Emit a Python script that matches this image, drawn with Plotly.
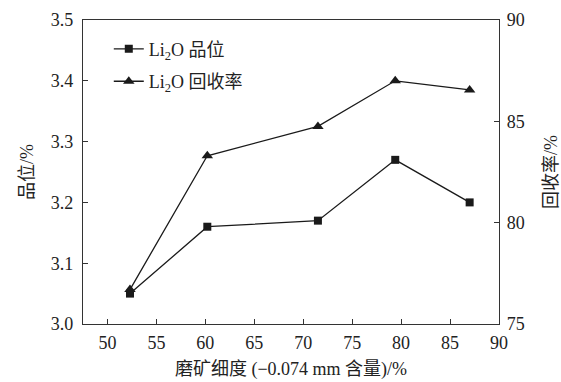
import plotly.graph_objects as go

fineness = [52.3, 60.2, 71.5, 79.4, 87.0]
grade = [3.05, 3.16, 3.17, 3.27, 3.20]
recovery = [76.7, 83.3, 84.75, 87.0, 86.55]

FONT = "Liberation Serif, Times New Roman, Noto Sans CJK SC, serif"

fig = go.Figure()
fig.add_trace(go.Scatter(
    x=fineness, y=grade, name="Li<sub>2</sub>O 品位", mode="lines+markers",
    line=dict(color="#1a1a1a", width=1.3),
    marker=dict(symbol="square", size=8, color="#1a1a1a"),
    legendgroup="a", yaxis="y"))
fig.add_trace(go.Scatter(
    x=fineness, y=recovery, name="Li<sub>2</sub>O 回收率", mode="lines+markers",
    line=dict(color="#1a1a1a", width=1.3),
    marker=dict(symbol="triangle-up", size=10, color="#1a1a1a"),
    legendgroup="b", yaxis="y2"))

axis_common = dict(showline=True, linecolor="#333", linewidth=1.3, ticks="inside",
                   ticklen=5, tickcolor="#333", showgrid=False, zeroline=False,
                   automargin=False,
                   tickfont=dict(family=FONT, size=18, color="#222"))

fig.update_layout(
    width=561, height=382,
    margin=dict(l=83, r=62, t=20, b=58),
    paper_bgcolor="white", plot_bgcolor="white",
    font=dict(family=FONT, size=18, color="#222"),
    showlegend=True,
    legend=dict(x=0.062, y=0.965, xanchor="left", yanchor="top",
                bgcolor="rgba(0,0,0,0)", font=dict(family=FONT, size=18),
                traceorder="grouped", tracegroupgap=6, itemwidth=30),
    xaxis=dict(range=[47.5, 90], tick0=50, dtick=5, mirror=True,
               ticklabelstandoff=2,
               title=dict(text="磨矿细度 (−0.074 mm 含量)/%", standoff=10,
                          font=dict(family=FONT, size=18)),
               **axis_common),
    yaxis=dict(range=[3.0, 3.5], dtick=0.1, tickformat=".1f",
               ticklabelstandoff=5,
               title=dict(text="品位/%", standoff=12, font=dict(family=FONT, size=18)),
               **axis_common),
    yaxis2=dict(range=[75, 90], dtick=5, overlaying="y", side="right",
                ticklabelstandoff=3,
                title=dict(text="回收率/%", standoff=20, font=dict(family=FONT, size=18)),
                **axis_common),
)

fig.write_html("out.html")
